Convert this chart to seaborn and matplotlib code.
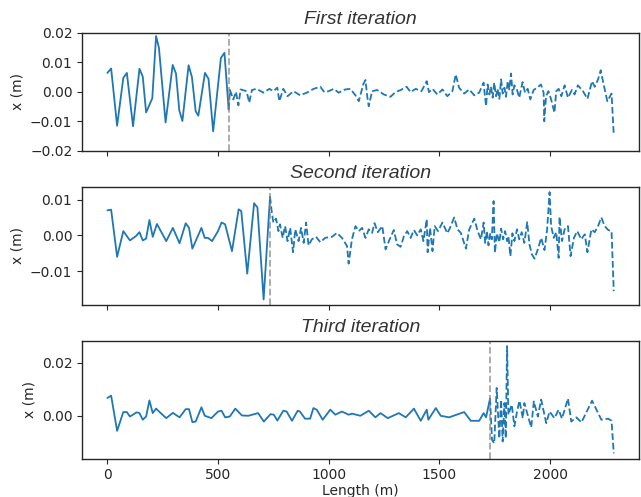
import numpy as np
import pandas as pd
import matplotlib
matplotlib.use("Agg")
import matplotlib.pyplot as plt
import seaborn as sns

titles = ["First iteration", "Second iteration", "Third iteration"]
split_x = [548, 735, 1729]

# ---- First iteration ----
x1_solid = [0, 17, 44, 72, 88, 116, 145, 160, 175, 203, 220, 233, 263, 295, 310, 325, 339,
            367, 382, 399, 411, 441, 457, 478, 513, 529, 548]
y1_solid = [0.0064, 0.0079, -0.0115, 0.0047, 0.0064, -0.0117, 0.0078, 0.0051, -0.0070, -0.0022,
            0.0189, 0.0149, -0.0104, 0.0091, 0.0062, -0.0063, -0.0099, 0.0090, 0.0050, -0.0066,
            -0.0081, 0.0064, 0.0044, -0.0134, 0.0115, 0.0132, -0.0060]
x1_dash = [548, 554, 569, 581, 592, 602, 629, 641, 653, 674, 705, 732, 750, 768, 777, 795, 814,
           841, 871, 901, 932, 962, 980, 1000, 1023, 1045, 1075, 1098, 1121, 1136, 1156, 1166,
           1174, 1181, 1196, 1219, 1249, 1279, 1302, 1325, 1352, 1370, 1393, 1419, 1443, 1453,
           1469, 1491, 1514, 1536, 1559, 1574, 1589, 1612, 1635, 1658, 1680, 1700, 1706, 1711,
           1718, 1726, 1733, 1741, 1748, 1756, 1763, 1771, 1779, 1786, 1794, 1801, 1809, 1816,
           1824, 1831, 1839, 1851, 1861, 1876, 1887, 1899, 1911, 1926, 1947, 1959, 1971, 1974,
           1982, 1993, 2005, 2020, 2028, 2039, 2051, 2066, 2081, 2099, 2111, 2126, 2149, 2169,
           2190, 2202, 2217, 2229, 2244, 2259, 2278, 2288]
y1_dash = [-0.0060, 0.0006, -0.0026, 0.0000, -0.0046, 0.0008, 0.0002, -0.0037, 0.0006, 0.0010,
           -0.0003, 0.0010, 0.0002, 0.0014, -0.0032, 0.0010, -0.0015, 0.0002, -0.0012, -0.0003,
           0.0010, 0.0017, -0.0001, 0.0002, 0.0010, -0.0003, 0.0008, 0.0010, -0.0012, -0.0032,
           0.0025, 0.0040, -0.0015, -0.0049, 0.0002, 0.0006, -0.0009, -0.0017, -0.0001, 0.0006,
           0.0017, -0.0001, 0.0010, 0.0002, 0.0036, -0.0001, 0.0010, -0.0009, 0.0008, -0.0015,
           0.0002, 0.0059, 0.0014, -0.0006, 0.0008, -0.0012, -0.0003, 0.0031, -0.0015, -0.0049,
           0.0025, -0.0009, 0.0017, -0.0020, 0.0031, -0.0015, 0.0010, -0.0024, 0.0042, -0.0006,
           0.0014, -0.0017, 0.0036, 0.0008, 0.0062, -0.0009, 0.0022, 0.0006, -0.0020, 0.0033,
           -0.0003, 0.0010, -0.0026, 0.0006, 0.0017, 0.0025, -0.0003, -0.0100, -0.0015, 0.0002,
           -0.0026, -0.0071, 0.0002, 0.0010, -0.0015, 0.0022, -0.0020, 0.0006, -0.0009, 0.0022,
           0.0002, -0.0024, 0.0036, 0.0017, 0.0042, 0.0073, 0.0019, -0.0032, -0.0006, -0.0146]

# ---- Second iteration ----
x2_solid = [0, 17, 44, 72, 102, 129, 145, 160, 175, 190, 205, 224, 266, 296, 326, 354, 369,
            384, 425, 440, 455, 473, 500, 516, 532, 563, 593, 605, 632, 663, 678, 706, 735]
y2_solid = [0.0070, 0.0072, -0.0060, 0.0012, -0.0014, -0.0002, 0.0009, -0.0014, -0.0009,
            0.0043, -0.0004, 0.0032, -0.0016, 0.0021, -0.0022, 0.0034, 0.0021, -0.0037, 0.0021,
            -0.0007, -0.0007, -0.0016, 0.0012, 0.0036, 0.0031, -0.0044, 0.0073, 0.0068, -0.0107,
            0.0090, 0.0078, -0.0179, 0.0108]
x2_dash = [735, 743, 750, 762, 773, 780, 792, 803, 814, 826, 839, 849, 864, 875, 887, 898, 909,
           924, 943, 962, 984, 1007, 1015, 1037, 1060, 1083, 1090, 1105, 1121, 1136, 1151, 1166,
           1181, 1196, 1207, 1222, 1242, 1257, 1272, 1294, 1309, 1325, 1340, 1355, 1370, 1385,
           1400, 1416, 1428, 1443, 1447, 1458, 1469, 1479, 1494, 1514, 1536, 1548, 1567, 1582,
           1597, 1620, 1635, 1658, 1673, 1688, 1700, 1707, 1715, 1722, 1730, 1737, 1745, 1751,
           1760, 1771, 1779, 1788, 1797, 1806, 1812, 1821, 1830, 1839, 1851, 1861, 1872, 1884,
           1897, 1907, 1918, 1930, 1945, 1960, 1975, 1987, 1998, 2005, 2017, 2028, 2039, 2043,
           2054, 2066, 2081, 2093, 2108, 2123, 2141, 2157, 2169, 2187, 2202, 2217, 2232, 2247,
           2263, 2278, 2288]
y2_dash = [0.0108, 0.0064, 0.0036, 0.0047, 0.0012, 0.0031, -0.0007, 0.0026, -0.0016, 0.0021,
           -0.0047, 0.0017, -0.0016, 0.0021, -0.0021, 0.0036, -0.0028, -0.0011, -0.0004, -0.0019,
           -0.0007, -0.0004, -0.0004, 0.0007, -0.0007, -0.0030, -0.0079, -0.0011, 0.0026, 0.0012,
           0.0021, -0.0007, 0.0017, 0.0007, 0.0034, 0.0009, 0.0026, -0.0039, -0.0016, 0.0015,
           -0.0025, -0.0032, -0.0002, 0.0012, -0.0007, 0.0015, 0.0000, 0.0017, -0.0016, 0.0045,
           -0.0047, 0.0021, -0.0044, 0.0026, 0.0012, 0.0036, 0.0006, 0.0021, 0.0050, 0.0017,
           0.0007, -0.0037, 0.0017, 0.0047, 0.0012, -0.0011, 0.0036, -0.0021, 0.0012, -0.0028,
           0.0006, -0.0011, 0.0096, -0.0049, 0.0006, -0.0019, 0.0019, -0.0011, 0.0012, -0.0016,
           -0.0002, -0.0058, 0.0006, -0.0016, 0.0017, -0.0011, 0.0009, -0.0021, 0.0037, -0.0025,
           -0.0053, -0.0065, -0.0039, -0.0007, -0.0041, 0.0017, 0.0121, 0.0026, -0.0007, 0.0009,
           -0.0063, 0.0052, -0.0016, 0.0017, 0.0026, -0.0058, -0.0007, 0.0012, -0.0011, 0.0003,
           -0.0047, 0.0017, 0.0009, 0.0026, 0.0050, 0.0026, 0.0015, 0.0012, -0.0156]

# ---- Third iteration ----
x3_solid = [0, 17, 44, 72, 88, 102, 132, 145, 160, 175, 190, 205, 220, 236, 266, 296, 326, 354,
            369, 384, 399, 425, 440, 470, 500, 516, 532, 553, 578, 608, 637, 681, 707, 737, 752,
            768, 795, 810, 834, 860, 870, 893, 916, 931, 946, 973, 1007, 1030, 1060, 1090, 1106,
            1143, 1181, 1211, 1234, 1267, 1317, 1348, 1385, 1416, 1443, 1450, 1484, 1506, 1544,
            1612, 1642, 1680, 1700, 1711, 1729]
y3_solid = [0.0067, 0.0076, -0.0057, 0.0014, 0.0014, -0.0003, 0.0013, 0.0010, -0.0015, -0.0003,
            0.0058, 0.0010, 0.0027, 0.0014, -0.0009, 0.0011, -0.0006, 0.0025, 0.0025, -0.0024,
            -0.0022, 0.0032, 0.0000, -0.0009, 0.0016, 0.0019, -0.0006, -0.0003, 0.0027, 0.0001,
            0.0000, 0.0010, -0.0022, 0.0006, 0.0004, -0.0018, 0.0019, 0.0016, -0.0019, 0.0019,
            0.0016, -0.0011, -0.0011, 0.0029, 0.0023, -0.0015, 0.0023, 0.0004, 0.0016, 0.0004,
            0.0008, 0.0000, 0.0019, -0.0006, 0.0010, -0.0009, 0.0010, -0.0006, 0.0027, -0.0019,
            0.0023, -0.0015, 0.0029, 0.0000, -0.0006, 0.0014, -0.0019, -0.0019, 0.0010, -0.0006,
            0.0065]
x3_dash = [1729, 1738, 1748, 1759, 1771, 1779, 1786, 1794, 1800, 1806, 1812, 1827, 1839, 1851,
           1862, 1877, 1884, 1915, 1927, 1945, 1960, 1983, 1998, 2020, 2039, 2054, 2081, 2096,
           2119, 2142, 2190, 2232, 2263, 2278, 2288]
y3_dash = [0.0065, -0.0091, -0.0104, 0.0105, -0.0085, 0.0061, -0.0097, 0.0048, -0.0085, 0.0263,
           0.0004, 0.0042, -0.0040, 0.0016, 0.0057, -0.0009, 0.0048, -0.0044, 0.0054, -0.0003,
           0.0061, -0.0028, 0.0016, -0.0009, 0.0023, -0.0011, 0.0065, -0.0022, -0.0006, -0.0025,
           0.0057, -0.0015, -0.0011, -0.0019, -0.0142]

series = [(x1_solid, y1_solid, x1_dash, y1_dash),
          (x2_solid, y2_solid, x2_dash, y2_dash),
          (x3_solid, y3_solid, x3_dash, y3_dash)]

sns.set_style("ticks")
plt.rcParams['font.family'] = ['DejaVu Sans']
plt.rcParams['axes.unicode_minus'] = True

fig, axes = plt.subplots(3, 1, sharex=True, figsize=(6.41, 4.97), dpi=100)
fig.subplots_adjust(left=0.128, right=0.997, top=0.934, bottom=0.077, hspace=0.305)

color = "#1f77b4"
for ax, (xs, ys, xd, yd), title, sx in zip(axes, series, titles, split_x):
    sns.lineplot(x=xs, y=ys, ax=ax, color=color, lw=1.3, sort=False, estimator=None)
    sns.lineplot(x=xd, y=yd, ax=ax, color=color, lw=1.3, sort=False, estimator=None,
                 linestyle="--")
    ax.axvline(sx, color="gray", alpha=0.7, linestyle="--", lw=1.3)
    ax.set_title(title, fontsize=14, style="italic", family=["Liberation Sans"],
                 color="#333333")
    ax.set_ylabel("x (m)")
    for s in ax.spines.values():
        s.set_color("#262626")
        s.set_linewidth(1.0)

axes[0].set_ylim(-0.02, 0.02)
axes[0].set_yticks([-0.02, -0.01, 0.0, 0.01, 0.02])
axes[1].set_yticks([-0.01, 0.0, 0.01])
axes[2].set_yticks([0.0, 0.02])
axes[2].set_xticks([0, 500, 1000, 1500, 2000])
axes[2].set_xlabel("Length (m)", labelpad=1)
for ax in axes:
    ax.yaxis.set_major_formatter(matplotlib.ticker.ScalarFormatter())
    ax.tick_params(labelsize=10)
axes[0].yaxis.set_major_formatter(matplotlib.ticker.FuncFormatter(
    lambda v, p: f"{v:.2f}".replace("-", "\u2212")))
axes[1].yaxis.set_major_formatter(matplotlib.ticker.FuncFormatter(
    lambda v, p: f"{v:.2f}".replace("-", "\u2212")))
axes[2].yaxis.set_major_formatter(matplotlib.ticker.FuncFormatter(
    lambda v, p: f"{v:.2f}".replace("-", "\u2212")))

fig.savefig("out.png", dpi=100)
